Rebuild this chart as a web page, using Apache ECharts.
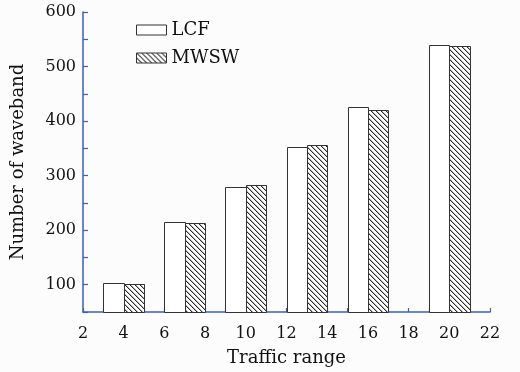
<!DOCTYPE html>
<html>
<head>
<meta charset="utf-8">
<script src="https://cdn.jsdelivr.net/npm/echarts@6/dist/echarts.min.js"></script>
<style>
html,body{margin:0;padding:0;background:#fcfcfc;}
#c{width:520px;height:372px;}
</style>
</head>
<body>
<div id="c"></div>
<script>
// Data
const groupCenters = [4, 7, 10, 13, 16, 20];
const lcfValues = [104, 215, 279, 353, 426, 539];
const mwswValues = [102, 213, 283, 357, 420, 537];
const xTickLabels = [2, 4, 6, 8, 10, 12, 14, 16, 18, 20, 22];
const yTickLabels = [100, 200, 300, 400, 500, 600];

const FONT = '"DejaVu Serif", "Liberation Serif", serif';
const AXIS_COLOR = '#3d5fb6';
const EDGE = '#333333';

function makeHatch() {
  const s = 5;
  const cv = document.createElement('canvas');
  cv.width = s; cv.height = s;
  const ctx = cv.getContext('2d');
  ctx.fillStyle = '#ffffff';
  ctx.fillRect(0, 0, s, s);
  ctx.fillStyle = '#2a2a2a';
  for (let i = 0; i < s; i++) ctx.fillRect(i, i, 1, 1);
  ctx.fillStyle = 'rgba(42,42,42,0.35)';
  for (let i = 0; i < s; i++) ctx.fillRect((i + 1) % s, i, 1, 1);
  return cv;
}
const hatch = { image: makeHatch(), repeat: 'repeat' };

const Y_MIN = 50;
function barSeries(name, values, side, fill) {
  return {
    name: name,
    type: 'custom',
    data: groupCenters.map((x, i) => [x, values[i]]),
    itemStyle: { color: fill, borderColor: EDGE, borderWidth: 1 },
    renderItem: function (params, api) {
      const x = api.value(0), y = api.value(1);
      const x0 = side < 0 ? x - 1 : x;
      const x1 = side < 0 ? x : x + 1;
      const p0 = api.coord([x0, y]);
      const p1 = api.coord([x1, Y_MIN]);
      return {
        type: 'rect',
        shape: { x: Math.round(p0[0]) + 0.5, y: Math.round(p0[1]) + 0.5,
                 width: Math.round(p1[0]) - Math.round(p0[0]),
                 height: Math.round(p1[1]) - Math.round(p0[1]) },
        style: { fill: fill, stroke: EDGE, lineWidth: 1 }
      };
    }
  };
}

const chart = echarts.init(document.getElementById('c'), null, { renderer: 'canvas' });
chart.setOption({
  backgroundColor: '#fcfcfc',
  animation: false,
  grid: { left: 83, right: 30, top: 12, bottom: 58, containLabel: false },
  legend: {
    orient: 'vertical',
    left: 131, top: 16,
    itemWidth: 30, itemHeight: 10,
    itemGap: 10,
    icon: 'rect',
    itemStyle: { borderColor: EDGE, borderWidth: 1 },
    textStyle: { fontFamily: FONT, fontSize: 18, color: '#111' },
    data: ['LCF', 'MWSW']
  },
  xAxis: {
    type: 'value', min: 2, max: 22, interval: 1,
    name: 'Traffic range', nameLocation: 'middle', nameGap: 37,
    nameTextStyle: { fontFamily: FONT, fontSize: 18, color: '#111' },
    axisLine: { show: true, lineStyle: { color: AXIS_COLOR, width: 1.5 } },
    axisTick: { show: true, inside: true, length: 4, lineStyle: { color: AXIS_COLOR, width: 1.2 } },
    axisLabel: {
      margin: 14, fontFamily: FONT, fontSize: 16, color: '#111',
      formatter: v => (xTickLabels.indexOf(v) >= 0 ? String(v) : '')
    },
    splitLine: { show: false }
  },
  yAxis: {
    type: 'value', min: 50, max: 600, interval: 50,
    name: 'Number of waveband', nameLocation: 'middle', nameGap: 56,
    nameTextStyle: { fontFamily: FONT, fontSize: 18, color: '#111' },
    axisLine: { show: true, lineStyle: { color: AXIS_COLOR, width: 1.5 } },
    axisTick: { show: true, inside: true, length: 5, lineStyle: { color: AXIS_COLOR, width: 1.2 } },
    axisLabel: {
      margin: 7, fontFamily: FONT, fontSize: 16, color: '#111',
      formatter: v => (yTickLabels.indexOf(v) >= 0 ? String(v) : '')
    },
    splitLine: { show: false }
  },
  series: [
    barSeries('LCF', lcfValues, -1, '#ffffff'),
    barSeries('MWSW', mwswValues, 1, hatch)
  ]
});
</script>
</body>
</html>
